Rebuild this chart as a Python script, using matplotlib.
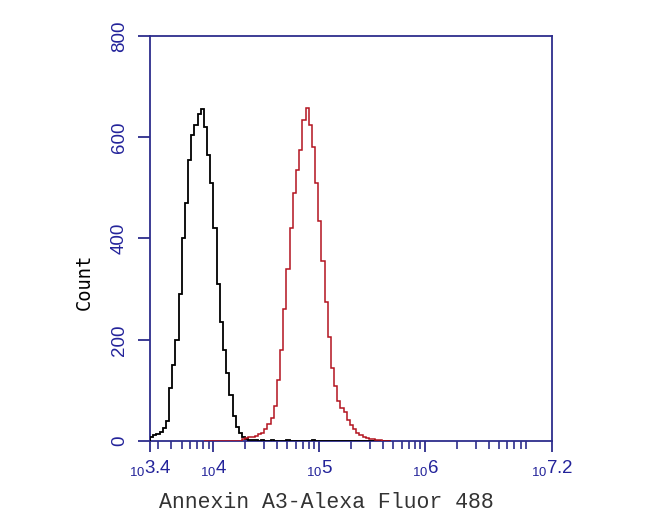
import numpy as np
import matplotlib.pyplot as plt
from matplotlib.ticker import FixedLocator, NullFormatter

plt.rcParams['mathtext.fontset'] = 'custom'
plt.rcParams['mathtext.rm'] = 'Liberation Sans'
plt.rcParams['mathtext.it'] = 'Liberation Sans'

# histogram bins on log10 scale
bin_width = 0.03
black_start = 3.40
red_start = 3.91

black_counts = [8, 11, 14, 17, 25, 40, 105, 150, 200, 290, 400, 470, 555, 605,
                625, 645, 655, 620, 565, 510, 420, 310, 235, 180, 135, 90, 50,
                28, 15, 8, 4, 2, 1, 1, 0, 1, 0, 0, 1, 0, 0, 0, 0, 1, 0, 0, 0,
                0, 0, 0, 0, 1, 0, 0, 0, 0, 0, 0, 0, 0, 0, 0, 0, 0, 0, 0, 0, 0,
                0, 0, 0, 0, 0, 0, 0, 0]
red_counts = [0, 0, 0, 0, 0, 0, 0, 0, 0, 0, 0, 0, 3, 5, 7, 8, 10, 13, 16, 24,
              33, 45, 70, 120, 180, 260, 340, 420, 490, 535, 575, 635, 658,
              625, 580, 510, 435, 355, 275, 205, 145, 108, 80, 65, 58, 42, 32,
              23, 15, 11, 8, 5, 4, 3, 2, 1, 0, 0, 0]

x_min, x_max = 3.4, 7.2
x_ticks = [3.4, 4, 5, 6, 7.2]
x_ticklabels = [r'${}_{10}$3.4', r'${}_{10}$4', r'${}_{10}$5', r'${}_{10}$6', r'${}_{10}$7.2']
y_ticks = [0, 200, 400, 600, 800]

navy = '#2d2d8c'
label_blue = '#23239a'

fig = plt.figure(figsize=(6.5, 5.21), dpi=100)
ax = fig.add_axes([150 / 650, 80 / 521, 402 / 650, 405 / 521])

black_edges = 10 ** (black_start + bin_width * np.arange(len(black_counts) + 1))
red_edges = 10 ** (red_start + bin_width * np.arange(len(red_counts) + 1))
ax.stairs(black_counts, black_edges, color='black', linewidth=1.3, baseline=0, zorder=3)
ax.stairs(red_counts, red_edges, color='#b3141f', linewidth=1.1, baseline=0, zorder=4)

ax.set_xscale('log')
ax.set_xlim(10 ** x_min, 10 ** x_max)
ax.set_ylim(0, 800)

ax.xaxis.set_major_locator(FixedLocator([10 ** t for t in x_ticks]))
ax.set_xticklabels(x_ticklabels)
minor = [m * 10 ** k for k in range(3, 8) for m in range(2, 10)
         if 10 ** x_min < m * 10 ** k < 10 ** x_max]
ax.xaxis.set_minor_locator(FixedLocator(minor))
ax.xaxis.set_minor_formatter(NullFormatter())

ax.set_yticks(y_ticks)
ax.set_yticklabels([str(v) for v in y_ticks], rotation=90, va='center')

for s in ax.spines.values():
    s.set_color(navy)
    s.set_linewidth(1.3)

ax.tick_params(axis='y', direction='out', length=9, width=1.3, color=navy,
               labelcolor=label_blue, labelsize=13.5, pad=7)
ax.tick_params(axis='x', which='major', direction='out', length=8, width=1.3,
               color=navy, labelcolor=label_blue, labelsize=13.5, pad=4)
ax.tick_params(axis='x', which='minor', direction='out', length=6, width=1.2,
               color=navy)
for lbl in ax.get_xticklabels() + ax.get_yticklabels():
    lbl.set_family('Liberation Sans')

ax.set_ylabel('Count', family='DejaVu Sans Mono', fontsize=13.5, color='black')
ax.yaxis.set_label_coords(-0.14, 0.393)
ax.set_xlabel('Annexin A3-Alexa Fluor 488', family='Liberation Mono',
              fontsize=15.5, color='#333333')
ax.xaxis.set_label_coords(0.438, -0.125)

fig.savefig('out.png', dpi=100)
